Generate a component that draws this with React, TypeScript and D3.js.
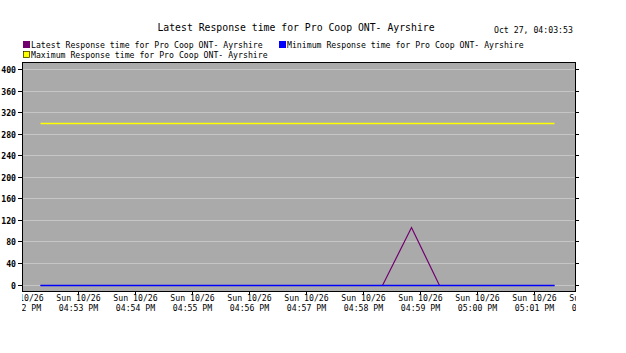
import React from "react";
import * as d3 from "d3";

const titleText = "Latest Response time for Pro Coop ONT- Ayrshire";
const stampText = "Oct 27, 04:03:53";
const seriesNames = [
  "Latest Response time for Pro Coop ONT- Ayrshire",
  "Minimum Response time for Pro Coop ONT- Ayrshire",
  "Maximum Response time for Pro Coop ONT- Ayrshire",
];
const seriesColors = ["#700070", "#0000ff", "#ffff00"];

const sampleTimes = [
  "16:52:21", "16:52:51", "16:53:21", "16:53:51", "16:54:21", "16:54:51",
  "16:55:21", "16:55:51", "16:56:21", "16:56:51", "16:57:21", "16:57:51",
  "16:58:21", "16:58:51", "16:59:21", "16:59:51", "17:00:21", "17:00:51",
  "17:01:22",
];
const latestValues = [0, 0, 0, 0, 0, 0, 0, 0, 0, 0, 0, 0, 0, 106, 0, 0, 0, 0, 0];
const minimumValues = [0, 0, 0, 0, 0, 0, 0, 0, 0, 0, 0, 0, 0, 0, 0, 0, 0, 0, 0];
const maximumValues = [300, 300, 300, 300, 300, 300, 300, 300, 300, 300, 300, 300, 300, 300, 300, 300, 300, 300, 300];

const tickTimes = ["16:52", "16:53", "16:54", "16:55", "16:56", "16:57", "16:58", "16:59", "17:00", "17:01", "17:02"];
const tickDay = "Sun 10/26";
const yTicks = [0, 40, 80, 120, 160, 200, 240, 280, 320, 360, 400];

const parse = d3.timeParse("%Y-%m-%d %H:%M:%S");
const parseMin = d3.timeParse("%Y-%m-%d %H:%M");
const toDate = (t: string) => parse("2025-10-26 " + t) as Date;
const toTick = (t: string) => parseMin("2025-10-26 " + t) as Date;
const fmtTick = d3.timeFormat("%I:%M %p");

const W = 626, H = 353;
const left = 22, right = 576, top = 62, bottom = 291;
const MONO = "'DejaVu Sans Mono', 'Liberation Mono', monospace";

export default function App() {
  const x = d3.scaleTime()
    .domain([toTick("16:53"), toTick("17:01")])
    .range([77.5, 533.5]);
  const y = d3.scaleLinear().domain([0, 400]).range([284.5, 69]);

  const mk = (vals: number[]) =>
    d3.line<number>()
      .x((_, i) => Math.round(x(toDate(sampleTimes[i]))) + 0.5)
      .y((v) => Math.round(y(v)) + 0.5)(vals) as string;

  return (
    <svg width={W} height={H} style={{ position: "absolute", left: 0, top: 0, background: "#fff" }}>
      <defs>
        <clipPath id="xclip">
          <rect x={left} y={bottom} width={right - left} height={30} />
        </clipPath>
      </defs>
      <text x={296} y={31} fontFamily={MONO} fontSize={9.8} textAnchor="middle" fill="#000">{titleText}</text>
      <text x={494} y={33} fontFamily={MONO} fontSize={8.2} fill="#000">{stampText}</text>

      {/* legend */}
      <rect x={23} y={41} width={7} height={7} fill={seriesColors[0]} />
      <text x={31} y={47.5} fontFamily={MONO} fontSize={8.2} fill="#000">{seriesNames[0]}</text>
      <rect x={279} y={41} width={7} height={7} fill={seriesColors[1]} />
      <text x={287} y={47.5} fontFamily={MONO} fontSize={8.2} fill="#000">{seriesNames[1]}</text>
      <rect x={23} y={51} width={7} height={7} fill={seriesColors[2]} />
      <rect x={23.5} y={51.5} width={6} height={6} fill="none" stroke="#000" strokeWidth={0.6} />
      <text x={31} y={57.5} fontFamily={MONO} fontSize={8.2} fill="#000">{seriesNames[2]}</text>

      {/* plot background */}
      <rect x={left} y={top} width={right - left} height={bottom - top} fill="#aaaaaa" />
      {yTicks.map((t) => {
        const yy = Math.round(y(t)) + 0.5;
        return (
          <g key={t}>
            <line x1={left} x2={right - 1} y1={yy} y2={yy} stroke="#c6c6c6" />
            <line x1={18} x2={left} y1={yy} y2={yy} stroke="#000" />
            <line x1={right} x2={right + 3} y1={yy} y2={yy} stroke="#000" />
            <text x={16} y={yy + 3} fontFamily={MONO} fontSize={8.2} fontWeight="bold" textAnchor="end" fill="#000">{t}</text>
          </g>
        );
      })}
      <rect x={left + 0.5} y={top + 0.5} width={right - left - 1} height={bottom - top} fill="none" stroke="#000" />
      <line x1={left} x2={right} y1={bottom + 0.5} y2={bottom + 0.5} stroke="#000" />

      {/* x ticks */}
      <g clipPath="url(#xclip)">
        {tickTimes.map((t) => {
          const xx = Math.round(x(toTick(t))) + 0.5;
          return (
            <g key={t}>
              <line x1={xx} x2={xx} y1={bottom} y2={bottom + 4} stroke="#000" />
              <text x={xx} y={301} fontFamily={MONO} fontSize={8.2} textAnchor="middle" fill="#000">{tickDay}</text>
              <text x={xx} y={311} fontFamily={MONO} fontSize={8.2} textAnchor="middle" fill="#000">{fmtTick(toTick(t))}</text>
            </g>
          );
        })}
      </g>

      {/* series */}
      <path d={mk(latestValues)} fill="none" stroke={seriesColors[0]} strokeWidth={1.2} />
      <path d={mk(maximumValues)} fill="none" stroke={seriesColors[2]} strokeWidth={1.5} />
      <path d={mk(minimumValues)} fill="none" stroke={seriesColors[1]} strokeWidth={1.5} />
    </svg>
  );
}
